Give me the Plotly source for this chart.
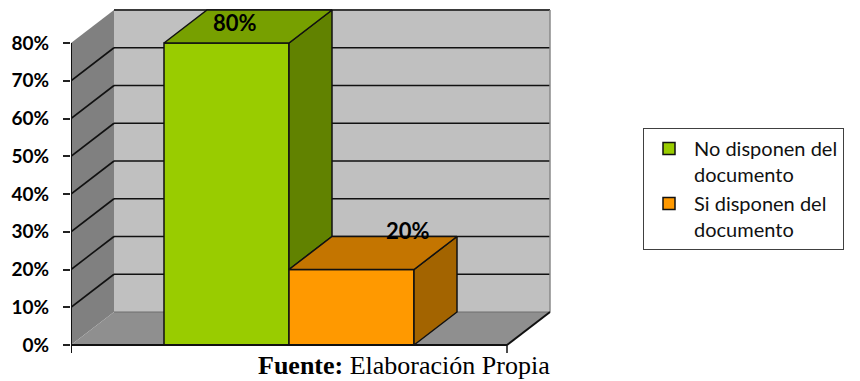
import plotly.graph_objects as go

# --- data -------------------------------------------------------------
categories = ["No disponen del documento", "Si disponen del documento"]
legend_labels = ["No disponen del<br>documento", "Si disponen del<br>documento"]
values = [80, 20]
tick_values = [0, 10, 20, 30, 40, 50, 60, 70, 80]
tick_labels = ["0%", "10%", "20%", "30%", "40%", "50%", "60%", "70%", "80%"]

# --- style ------------------------------------------------------------
front_colors = ["#99CC00", "#FF9900"]
top_colors = ["#77A000", "#C47500"]
side_colors = ["#618200", "#A36400"]

W, H = 860, 381
MARGIN_L = 71
PX_PER_UNIT = 125.0        # horizontal pixels per bar slot
PX_PER_PCT = 3.775         # vertical pixels per percentage point
ORIGIN_X_PX = 226.5        # pixel column of the first bar's centre
ORIGIN_Y_PX = 345.0        # pixel row of 0 %

x_range = [(MARGIN_L - ORIGIN_X_PX) / PX_PER_UNIT, (W - ORIGIN_X_PX) / PX_PER_UNIT]
y_range = [(ORIGIN_Y_PX - H) / PX_PER_PCT, ORIGIN_Y_PX / PX_PER_PCT]

# 3-D depth offset (pixels -> data units)
DX = 43 / PX_PER_UNIT
DY = 33 / PX_PER_PCT
FLOOR_PAD = 0.744
TICK_DOWN = 8 / PX_PER_PCT

n = len(values)
x0 = -0.5 - FLOOR_PAD
x1 = (n - 0.5) + FLOOR_PAD
top = max(tick_values)


def poly_path(pts):
    return "M " + " L ".join(f"{x},{y}" for x, y in pts) + " Z"


shapes = []
# walls and floor
shapes.append(dict(type="path", layer="below", line=dict(width=0), fillcolor="#808080",
                   path=poly_path([(x0, 0), (x0 + DX, DY), (x0 + DX, top + DY), (x0, top)])))
shapes.append(dict(type="rect", layer="below", line=dict(width=0), fillcolor="#C0C0C0",
                   x0=x0 + DX, x1=x1 + DX, y0=DY, y1=top + DY))
shapes.append(dict(type="path", layer="below", line=dict(width=0), fillcolor="#8F8F8F",
                   path=poly_path([(x0, 0), (x1, 0), (x1 + DX, DY), (x0 + DX, DY)])))
# gridlines on back and side walls
for v in tick_values[1:-1]:
    shapes.append(dict(type="line", layer="below", line=dict(color="#111111", width=1.6),
                       x0=x0 + DX, x1=x1 + DX, y0=v + DY, y1=v + DY))
    shapes.append(dict(type="line", layer="below", line=dict(color="#111111", width=1.6),
                       x0=x0, x1=x0 + DX, y0=v, y1=v + DY))
# wall outlines
shapes.append(dict(type="line", layer="below", line=dict(color="#3A3A3A", width=2),
                   x0=x0 + DX, x1=x1 + DX, y0=top + DY, y1=top + DY))
shapes.append(dict(type="line", layer="below", line=dict(color="#8A8A8A", width=1.5),
                   x0=x1 + DX, x1=x1 + DX, y0=DY, y1=top + DY))
shapes.append(dict(type="line", layer="below", line=dict(color="#6E6E6E", width=1),
                   x0=x0 + DX, x1=x1 + DX, y0=DY, y1=DY))
# floor edges and axis lines
shapes.append(dict(type="line", layer="below", line=dict(color="#111111", width=2),
                   x0=x1, x1=x1 + DX, y0=0, y1=DY))
shapes.append(dict(type="line", layer="above", line=dict(color="#111111", width=2),
                   x0=x0, x1=x1, y0=0, y1=0))
shapes.append(dict(type="line", layer="above", line=dict(color="#111111", width=2),
                   x0=x0, x1=x0, y0=-TICK_DOWN, y1=top))
shapes.append(dict(type="line", layer="above", line=dict(color="#111111", width=1.5),
                   x0=x1, x1=x1, y0=-TICK_DOWN, y1=0))

fig = go.Figure()

# front faces as real bars (also give the legend entries)
for i, v in enumerate(values):
    fig.add_trace(go.Bar(
        x=[i], y=[v], width=1, name=legend_labels[i],
        marker=dict(color=front_colors[i], line=dict(color="#111111", width=1.5)),
        hoverinfo="name+y",
    ))

# side and top faces
for i, v in enumerate(values):
    nxt = values[i + 1] if i + 1 < n else 0
    lo = min(v, nxt)
    side = [(i + 0.5, lo), (i + 0.5 + DX, lo + DY), (i + 0.5 + DX, v + DY), (i + 0.5, v), (i + 0.5, lo)]
    fig.add_trace(go.Scatter(
        x=[p[0] for p in side], y=[p[1] for p in side], mode="lines", fill="toself",
        fillcolor=side_colors[i], line=dict(color="#111111", width=1.5),
        showlegend=False, hoverinfo="skip"))
    cap = [(i - 0.5, v), (i + 0.5, v), (i + 0.5 + DX, v + DY), (i - 0.5 + DX, v + DY), (i - 0.5, v)]
    fig.add_trace(go.Scatter(
        x=[p[0] for p in cap], y=[p[1] for p in cap], mode="lines", fill="toself",
        fillcolor=top_colors[i], line=dict(color="#111111", width=1.5),
        showlegend=False, hoverinfo="skip"))

# value labels
label_shift_px = [(-13, 4), (35, 23)]
annotations = []
for i, v in enumerate(values):
    annotations.append(dict(
        x=i + DX / 2, y=v + DY / 2, xref="x", yref="y", text=f"{v}%", showarrow=False,
        xanchor="center", yanchor="middle",
        xshift=label_shift_px[i][0], yshift=label_shift_px[i][1],
        font=dict(family="Lato", size=22, color="black", weight="bold")))

annotations.append(dict(
    x=(404 - MARGIN_L) / (W - MARGIN_L), y=1 - 365 / H, xref="paper", yref="paper",
    text="<b>Fuente:</b> Elaboración Propia", showarrow=False,
    xanchor="center", yanchor="middle",
    font=dict(family="Liberation Serif", size=26, color="black")))

fig.update_layout(
    width=W, height=H,
    margin=dict(l=MARGIN_L, r=0, t=0, b=0, autoexpand=False),
    paper_bgcolor="white", plot_bgcolor="white",
    barmode="overlay",
    shapes=shapes,
    annotations=annotations,
    xaxis=dict(range=x_range, visible=False, fixedrange=True),
    yaxis=dict(range=y_range, tickvals=tick_values, ticktext=tick_labels,
               ticks="outside", ticklen=7, tickwidth=1.5, tickcolor="#222222",
               showgrid=False, zeroline=False, showline=False, ticklabelstandoff=10,
               tickfont=dict(family="Lato", size=19, color="black", weight="bold"),
               fixedrange=True),
    legend=dict(
        x=(643 - MARGIN_L) / (W - MARGIN_L), y=1 - 128 / H,
        xanchor="left", yanchor="top",
        bgcolor="white", bordercolor="#404040", borderwidth=1,
        font=dict(family="Lato", size=20, color="#111111"),
        valign="top", itemwidth=40, traceorder="normal",
        entrywidth=180, entrywidthmode="pixels",
    ),
)

fig.write_html("out.html")
